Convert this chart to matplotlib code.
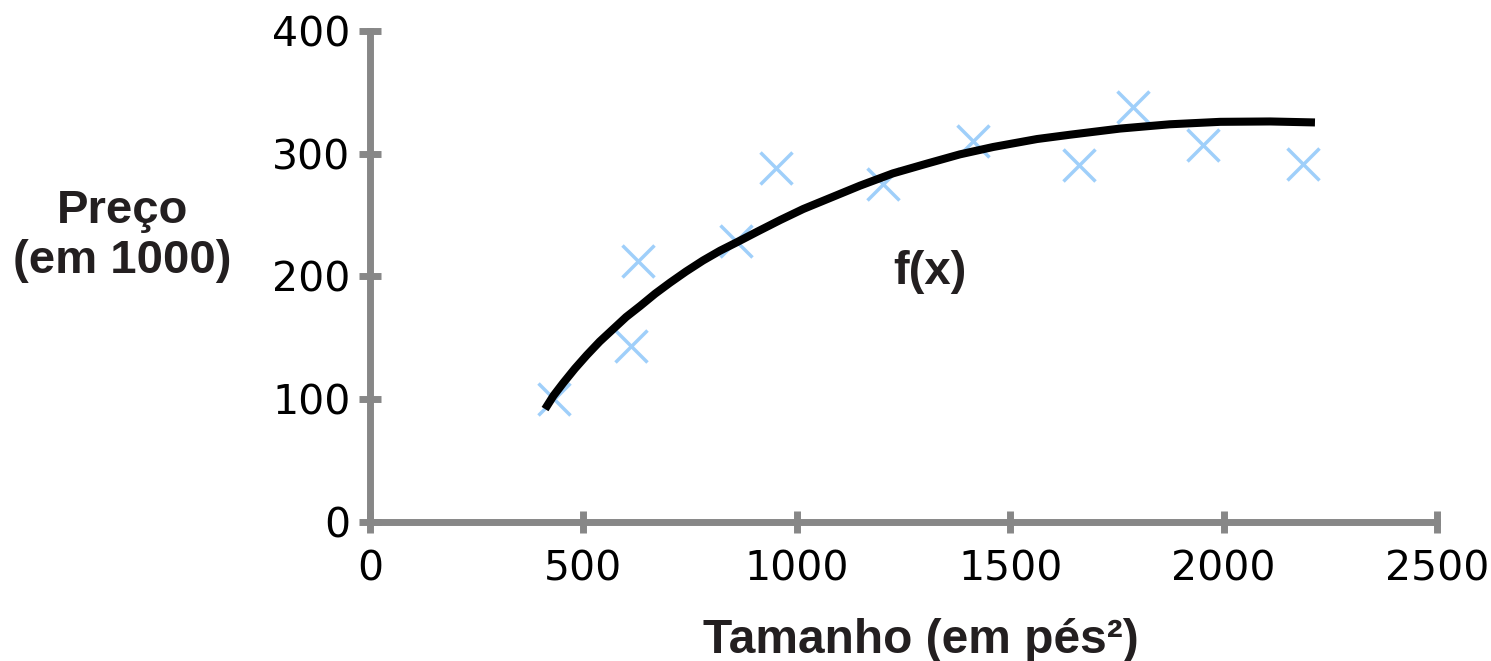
import matplotlib
matplotlib.use("Agg")
import matplotlib.pyplot as plt

# training points (size in ft^2, price in 1000)
size_pts = [431, 612, 628, 857, 951, 1202, 1413, 1661, 1788, 1952, 2186]
price_pts = [100, 143, 213, 229, 288, 275, 310, 291, 338, 307, 292]

# fitted curve f(x)
curve_x = [410, 430, 452, 480, 508, 538, 569, 600, 633, 668, 703, 740, 780,
           820, 860, 910, 961, 1015, 1071, 1148, 1225, 1305, 1382, 1460,
           1563, 1640, 1757, 1874, 1992, 2109, 2214]
curve_y = [92, 103, 113, 125, 136, 147, 157, 167, 176, 186, 195, 204, 213,
           221, 228, 237, 246, 255, 263, 274, 284, 292, 299.5, 305.5,
           312, 315.5, 320.5, 324, 326, 326.3, 325.5]

x_ticks = [0, 500, 1000, 1500, 2000, 2500]
y_ticks = [0, 100, 200, 300, 400]

grey = "#878787"
txt = "#231f20"

fig = plt.figure(figsize=(14.91, 6.61), dpi=100)
ax = fig.add_axes([0.2482, 0.2103, 0.9638 - 0.2482, 0.9531 - 0.2103])

ax.plot(curve_x, curve_y, color="black", lw=5.8, solid_capstyle="butt",
        solid_joinstyle="round", zorder=3)
ax.plot(size_pts, price_pts, linestyle="none", marker="x", markersize=23,
        markeredgewidth=2.5, color="#9fcffa", zorder=2)

ax.set_xlim(0, 2500)
ax.set_ylim(0, 400)
ax.set_xticks(x_ticks)
ax.set_yticks(y_ticks)

for side in ["top", "right"]:
    ax.spines[side].set_visible(False)
for side in ["left", "bottom"]:
    ax.spines[side].set_color(grey)
    ax.spines[side].set_linewidth(5)

ax.tick_params(direction="inout", length=16, width=5, color=grey,
               labelsize=29.5, labelcolor="black")
ax.tick_params(axis="x", pad=12)
ax.tick_params(axis="y", pad=6)

ax.set_xlabel("Tamanho (em pés²)", fontsize=34.5, fontweight="bold",
              family="Liberation Sans", color=txt, labelpad=20)
ax.xaxis.label.set_x(0.516)
fig.text(0.082, 0.643, "Preço\n(em 1000)", fontsize=34, fontweight="bold",
         family="Liberation Sans", color=txt, ha="center", va="center",
         linespacing=1.15)
ax.text(1312, 204, "f(x)", fontsize=34, fontweight="bold",
        family="Liberation Sans", color=txt, ha="center", va="center")

fig.savefig("out.png", dpi=100)
